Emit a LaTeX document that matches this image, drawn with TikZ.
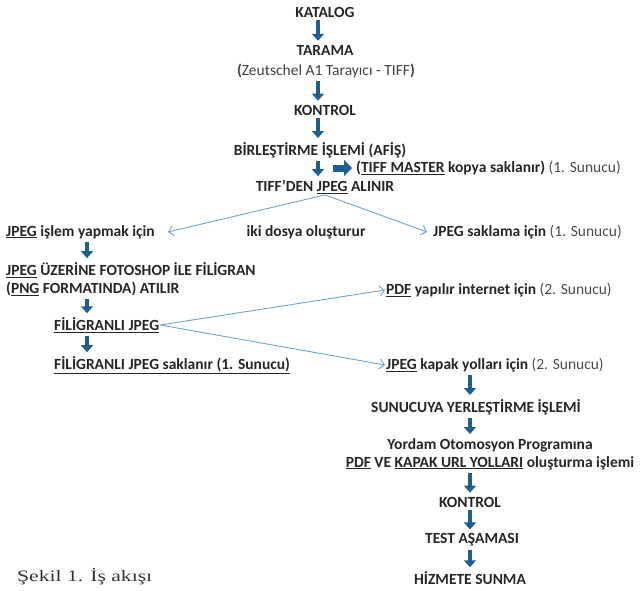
\documentclass[tikz,border=0pt]{standalone}
\usepackage{fontspec}
\setmainfont{Carlito}
\newfontfamily\capfont{Liberation Serif}
\usetikzlibrary{arrows.meta,positioning}
\definecolor{flowblue}{HTML}{1F5F8F}
\definecolor{thinblue}{HTML}{6FA3CC}
\definecolor{notegray}{HTML}{4A4A4A}
\newcommand{\sunucu}[1]{{\mdseries\color{notegray}(#1. Sunucu)}}
\tikzset{
  flowtext/.style={font=\bfseries\fontsize{15.5}{18}\selectfont, inner sep=1pt, text=black!85},
  bigarrow/.style={draw=flowblue, line width=4.5pt, -{Triangle[width=12pt,length=7pt]}, shorten <=2pt, shorten >=3pt},
  fatarrow/.style={draw=flowblue, line width=7pt, -{Triangle[width=16pt,length=8pt]}, shorten >=3pt},
  splitarrow/.style={draw=thinblue, line width=0.9pt, -{Straight Barb[length=5pt,width=10pt]}},
}
\begin{document}
\begin{tikzpicture}[x=1pt,y=-1pt]
  \useasboundingbox[fill=white] (0,0) rectangle (642,590);

  \node[flowtext] (katalog) at (325,12) {KATALOG};
  \node[flowtext] (tarama) at (325,50) {TARAMA};
  \node[flowtext, font=\fontsize{15.5}{18}\selectfont, text=black!75] (tarayici) at (326,71) {\textbf{(}Zeutschel A1 Tarayıcı - TIFF\textbf{)}};
  \node[flowtext] (kontrol) at (325,110) {KONTROL};
  \node[flowtext] (birlestirme) at (320,150) {BİRLEŞTİRME İŞLEMİ (AFİŞ)};
  \node[flowtext, anchor=west] (master) at (355,168) {(\underline{TIFF MASTER} kopya saklanır) \sunucu{1}};
  \node[flowtext] (tiffjpeg) at (325,187) {TIFF’DEN \underline{JPEG} ALINIR};

  \node[flowtext, anchor=west] (islem) at (5,232) {\underline{JPEG} işlem yapmak için};
  \node[flowtext] (ikidosya) at (306,232) {iki dosya oluşturur};
  \node[flowtext, anchor=west] (saklama) at (432,232) {JPEG saklama için \sunucu{1}};

  \node[flowtext, anchor=west, align=left] (filigran) at (5,279) {\underline{JPEG} ÜZERİNE FOTOSHOP İLE FİLİGRAN\\(\underline{PNG} FORMATINDA) ATILIR};
  \node[flowtext, anchor=west] (filjpeg) at (53,325) {\underline{FİLİGRANLI JPEG}};
  \node[flowtext, anchor=west] (filsak) at (53,365) {\underline{FİLİGRANLI JPEG saklanır (1. Sunucu)}};

  \node[flowtext, anchor=west] (pdf) at (385,290) {\underline{PDF} yapılır internet için \sunucu{2}};
  \node[flowtext, anchor=west] (kapak) at (385,365) {\underline{JPEG} kapak yolları için \sunucu{2}};
  \node[flowtext] (sunucuya) at (476,407) {SUNUCUYA YERLEŞTİRME İŞLEMİ};
  \node[flowtext, align=center] (yordam) at (490,454) {Yordam Otomosyon Programına\\\underline{PDF} VE \underline{KAPAK URL YOLLARI} oluşturma işlemi};
  \node[flowtext] (kontrol2) at (470,502) {KONTROL};
  \node[flowtext] (test) at (472,540) {TEST AŞAMASI};
  \node[flowtext] (hizmet) at (470,578) {HİZMETE SUNMA};

  \node[font=\capfont\fontsize{16}{18}\selectfont, anchor=west, inner sep=1pt, text=black!80] (caption) at (16,577) {\scalebox{1.35}[1]{Şekil 1. İş akışı}};

  \coordinate (masterstart) at (333,168);

  \draw[bigarrow] (katalog.south -| 318,0) -- (tarama.north -| 318,0);
  \draw[bigarrow] (tarayici.south -| 318,0) -- (kontrol.north -| 318,0);
  \draw[bigarrow] (kontrol.south -| 318,0) -- (birlestirme.north -| 318,0);
  \draw[bigarrow] (birlestirme.south -| 318,0) -- (tiffjpeg.north -| 318,0);
  \draw[fatarrow] (masterstart) -- (master.west);

  \draw[splitarrow] (tiffjpeg.south) -- ([xshift=12pt]islem.east);
  \draw[splitarrow] (tiffjpeg.south) -- ([xshift=-5pt]saklama.west);

  \draw[bigarrow] (islem.south -| 87,0) -- (filigran.north -| 87,0);
  \draw[bigarrow] (filigran.south -| 87,0) -- (filjpeg.north -| 87,0);
  \draw[bigarrow] (filjpeg.south -| 87,0) -- (filsak.north -| 87,0);

  \draw[splitarrow] (filjpeg.east) -- (pdf.west);
  \draw[splitarrow] (filjpeg.east) -- (kapak.west);

  \draw[bigarrow] (kapak.south -| kontrol2) -- (sunucuya.north -| kontrol2);
  \draw[bigarrow] (sunucuya.south -| kontrol2) -- (yordam.north -| kontrol2);
  \draw[bigarrow] (yordam.south -| kontrol2) -- (kontrol2.north);
  \draw[bigarrow] (kontrol2.south) -- (test.north -| kontrol2);
  \draw[bigarrow] (test.south -| kontrol2) -- (hizmet.north -| kontrol2);
\end{tikzpicture}
\end{document}
